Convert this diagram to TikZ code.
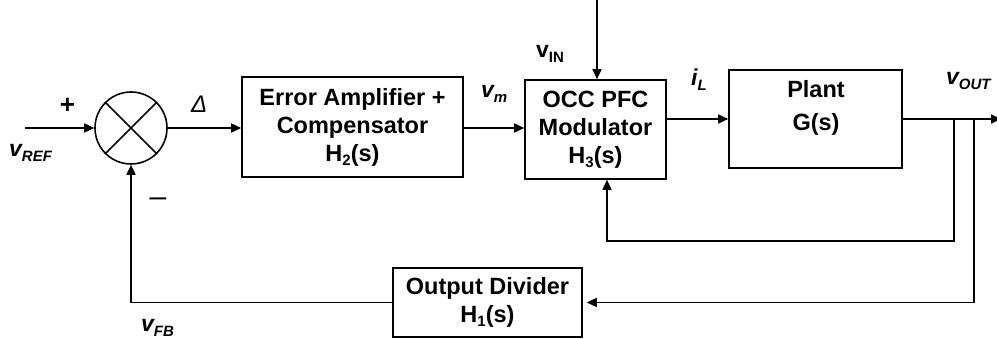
\documentclass[tikz,border=0pt]{standalone}
\usepackage{fontspec}
\setmainfont{Liberation Sans}
\usetikzlibrary{arrows.meta,calc}
\newcommand{\mysub}[1]{\raisebox{-4pt}{\fontsize{15}{15}\selectfont #1}}
\newcommand{\sigl}[2]{{\fontsize{23}{23}\selectfont\bfseries\itshape #1}\raisebox{-5pt}{\fontsize{15}{15}\selectfont\bfseries\itshape #2}}
\tikzset{
  blk/.style={draw,line width=1.6pt,inner sep=0pt,align=center,font=\fontsize{23.5}{28}\selectfont\bfseries},
  wire/.style={line width=1.6pt},
  arr/.style={wire,-{Triangle[length=10pt,width=9pt]}},
  lbl/.style={inner sep=0pt,anchor=base west},
}
\begin{document}
\begin{tikzpicture}[x=1pt,y=-1pt]
\useasboundingbox (0,0) rectangle (997,339);
% summing junction
\node[draw,circle,line width=1.6pt,minimum size=72pt,inner sep=0pt] (sum) at (131,128) {};
\draw[wire] (sum.45) -- (sum.225);
\draw[wire] (sum.135) -- (sum.315);
% blocks
\node[blk,minimum width=221pt,minimum height=100pt] (h2) at (352.5,127) {Error Amplifier +\\Compensator\\H\mysub{2}(s)};
\node[blk,minimum width=141pt,minimum height=99pt] (occ) at (595.5,129.5) {OCC PFC\\Modulator\\H\mysub{3}(s)};
\node[draw,line width=1.6pt,minimum width=173pt,minimum height=98pt,inner sep=0pt] (plant) at (815.5,119) {};
\node[inner sep=0pt,align=center,font=\fontsize{23.5}{33}\selectfont\bfseries] (plantlbl) at (816,108) {Plant\\G(s)};
\node[blk,minimum width=189pt,minimum height=69pt] (div) at (487.5,302.5) {Output Divider\\H\mysub{1}(s)};
% coordinates
\coordinate (in) at (25,128);
\coordinate (vin) at (597,0);
\coordinate (out) at (1001,119);
\coordinate (b1) at (954,119);
\coordinate (c1) at (607,241);
\coordinate (b2) at (974,119);
% connectors
\draw[arr] (in) -- (sum.west);
\draw[arr] (sum.east) -- (sum.east -| h2.west);
\draw[arr] (h2.east |- 0,128) -- (occ.west |- 0,128);
\draw[arr] (vin) -- (vin |- occ.north);
\draw[arr] (occ.east |- plant.west) -- (plant.west);
\draw[arr] (plant.east) -- (out);
\draw[arr] (b1) |- (c1) -- (c1 |- occ.south);
\draw[arr] (b2) |- ([xshift=4pt]div.east);
\draw[arr] (div.west) -| (sum.south);
% labels
\node[inner sep=0pt,font=\fontsize{26}{28}\selectfont\bfseries] (plus) at (67.5,106) {+};
\node[inner sep=0pt,anchor=base,font=\fontsize{30}{30}\selectfont] (minus) at (158,207) {–};
\node[lbl,font=\fontsize{24}{24}\selectfont\itshape] (delta) at (191,113) {Δ};
\node[lbl] (vref) at (9,157) {\sigl{v}{REF}};
\node[lbl] (vm) at (481,98) {\sigl{v}{m}};
\node[lbl] (il) at (691,86) {\sigl{i}{L}};
\node[lbl] (vout) at (946,85) {\sigl{v}{OUT}};
\node[lbl] (vfb) at (141,332) {\sigl{v}{FB}};
\node[lbl] (vinl) at (536,58) {{\fontsize{23}{23}\selectfont\bfseries v}\raisebox{-5pt}{\fontsize{15}{15}\selectfont\bfseries IN}};
\end{tikzpicture}
\end{document}
